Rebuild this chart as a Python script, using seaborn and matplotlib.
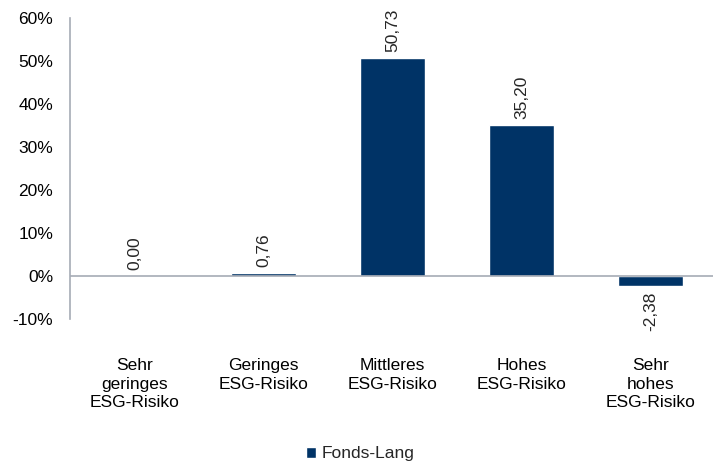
import matplotlib
matplotlib.use("Agg")
import matplotlib.pyplot as plt
import seaborn as sns
import pandas as pd
from matplotlib.ticker import FuncFormatter

# Daten
kategorien = ["Sehr\ngeringes\nESG-Risiko", "Geringes\nESG-Risiko", "Mittleres\nESG-Risiko",
              "Hohes\nESG-Risiko", "Sehr\nhohes\nESG-Risiko"]
werte = [0.00, 0.76, 50.73, 35.20, -2.38]
serie = "Fonds-Lang"

farbe = "#003366"
grau = "#A6ABB5"
fs = 12.5

sns.set_theme(style="white")
plt.rcParams["font.family"] = ["Liberation Sans", "DejaVu Sans"]

df = pd.DataFrame({"kategorie": kategorien, "wert": werte, "serie": serie})

fig = plt.figure(figsize=(7.13, 4.61), dpi=100)
ax = fig.add_axes([0.098, 0.308, 0.905, 0.653])
sns.barplot(data=df, x="kategorie", y="wert", hue="serie", palette=[farbe],
            width=0.5, ax=ax, saturation=1)

ax.set_ylim(-10, 60)
ax.set_yticks(range(-10, 61, 10))
ax.yaxis.set_major_formatter(FuncFormatter(lambda v, p: f"{v:.0f}%"))
ax.set_xlim(-0.5, 4.5)
ax.set_xlabel("")
ax.set_ylabel("")
ax.tick_params(axis="y", length=0, pad=12, labelsize=fs, labelcolor="black")
ax.tick_params(axis="x", length=0, pad=28, labelsize=fs, labelcolor="black")
for lbl in ax.get_xticklabels():
    lbl.set_linespacing(1.3)
ax.axhline(0, color=grau, lw=1.2, zorder=3)

for s in ["top", "right", "bottom"]:
    ax.spines[s].set_visible(False)
ax.spines["left"].set_color(grau)
ax.spines["left"].set_linewidth(1.2)

for i, v in enumerate(werte):
    txt = f"{v:.2f}".replace(".", ",")
    if v >= 0:
        ax.annotate(txt, (i, v), xytext=(0, 4), textcoords="offset points",
                    rotation=90, ha="center", va="bottom", fontsize=fs)
    else:
        ax.annotate(txt, (i, v), xytext=(0, -4), textcoords="offset points",
                    rotation=90, ha="center", va="top", fontsize=fs)

leg = ax.legend(loc="lower center", bbox_to_anchor=(0.45, -0.525), frameon=False,
                fontsize=fs, handlelength=0.6, handleheight=0.6, handletextpad=0.3)

fig.savefig("out.png", dpi=100)
